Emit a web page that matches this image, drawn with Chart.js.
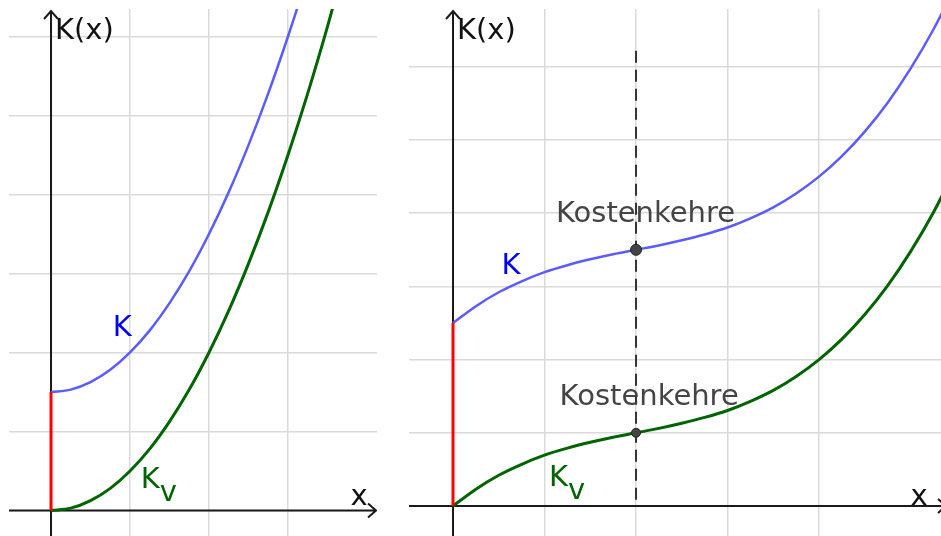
<!DOCTYPE html>
<html>
<head>
<meta charset="utf-8">
<title>Kostenkehre</title>
<script src="https://cdn.jsdelivr.net/npm/chart.js@4.4.1/dist/chart.umd.min.js"></script>
<style>
  html, body { margin: 0; padding: 0; background: #fff; }
  body { width: 941px; height: 536px; position: relative; overflow: hidden; }
  .panel { position: absolute; top: 9px; height: 527px; }
  #left-panel { left: 9px; width: 368px; }
  #right-panel { left: 409px; width: 532px; }
</style>
</head>
<body>
<div class="panel" id="left-panel"><canvas id="leftChart"></canvas></div>
<div class="panel" id="right-panel"><canvas id="rightChart"></canvas></div>
<script>
// left graph: costs without a turning point
const leftX  = [0, 0.25, 0.5, 0.75, 1, 1.25, 1.5, 1.75, 2, 2.25, 2.5, 2.75, 3, 3.25, 3.5, 3.75];
const leftKv = [0, 0.03, 0.125, 0.28, 0.5, 0.78, 1.125, 1.53, 2.0, 2.53, 3.125, 3.78, 4.5, 5.28, 6.125, 7.03];
const leftK  = [1.5, 1.53, 1.625, 1.78, 2.0, 2.28, 2.625, 3.03, 3.5, 4.03, 4.625, 5.28, 6.0, 6.78, 7.625, 8.53];
const leftFixed = 1.5;

// right graph: S-shaped costs with Kostenkehre at x = 2
const rightX  = [0, 0.25, 0.5, 0.75, 1, 1.25, 1.5, 1.75, 2, 2.25, 2.5, 2.75, 3, 3.25, 3.5, 3.75, 4, 4.25, 4.5, 4.75, 5, 5.25, 5.5];
const rightKv = [0, 0.23, 0.42, 0.57, 0.695, 0.79, 0.87, 0.94, 1.0, 1.06, 1.13, 1.21, 1.305, 1.43, 1.58, 1.77, 2.0, 2.28, 2.615, 3.01, 3.475, 4.01, 4.625];
const rightK  = [2.5, 2.73, 2.92, 3.07, 3.195, 3.29, 3.37, 3.44, 3.5, 3.56, 3.63, 3.71, 3.805, 3.93, 4.08, 4.27, 4.5, 4.78, 5.115, 5.51, 5.975, 6.51, 7.125];
const rightFixed = 2.5;
const turnX = 2;
const turnLineTop = 6.22;

const FONT = '29px "DejaVu Sans"';
const BLUE = '#5b5bff';
const GREEN = '#006400';

function toPoints(xs, ys) {
    return xs.map((x, i) => ({ x: x, y: ys[i] }));
}

function integerTicks(scale) {
    scale.ticks = scale.ticks.filter(t => Math.abs(t.value - Math.round(t.value)) < 1e-6);
}

function gridScale(min, max) {
    return {
        type: 'linear',
        min: min,
        max: max,
        afterBuildTicks: integerTicks,
        afterFit: s => { if (s.isHorizontal()) s.height = 0; else s.width = 0; },
        ticks: { display: false, stepSize: 1 },
        grid: { color: '#dadada', lineWidth: 1.5, drawTicks: false },
        border: { display: false }
    };
}

// axes with arrows and the text labels
const decorPlugin = {
    id: 'decor',
    beforeDatasetsDraw(chart, args, opts) {
        const { ctx, chartArea, scales: { x, y } } = chart;
        const x0 = x.getPixelForValue(0);
        const y0 = y.getPixelForValue(0);
        const top = chartArea.top + 2;
        const tip = chartArea.right + opts.arrowOverhang;
        ctx.save();
        ctx.strokeStyle = '#1a1a1a';
        ctx.lineWidth = 2;
        ctx.beginPath();
        ctx.moveTo(x0, chartArea.bottom);
        ctx.lineTo(x0, top);
        ctx.moveTo(chartArea.left, y0);
        ctx.lineTo(tip, y0);
        ctx.moveTo(x0 - 7, top + 8);
        ctx.lineTo(x0, top);
        ctx.lineTo(x0 + 7, top + 8);
        ctx.moveTo(tip - 8, y0 - 7);
        ctx.lineTo(tip, y0);
        ctx.lineTo(tip - 8, y0 + 7);
        ctx.stroke();
        ctx.restore();
    },
    afterDatasetsDraw(chart, args, opts) {
        const { ctx, chartArea, scales: { x, y } } = chart;
        ctx.save();
        ctx.font = FONT;
        ctx.textBaseline = 'alphabetic';
        ctx.textAlign = 'left';
        ctx.fillStyle = '#111';
        ctx.fillText('K(x)', x.getPixelForValue(0) + 4, chartArea.top + 30);
        opts.labels.forEach(l => {
            const px = x.getPixelForValue(l.x);
            const py = y.getPixelForValue(l.y);
            ctx.fillStyle = l.color;
            ctx.fillText(l.text, px, py);
            if (l.sub) {
                ctx.fillText(l.sub, px + ctx.measureText(l.text).width, py + 13);
            }
        });
        ctx.restore();
    }
};

function baseOptions(xMin, xMax, yMin, yMax, overhang, labels) {
    return {
        responsive: true,
        maintainAspectRatio: false,
        animation: false,
        layout: { padding: 0, autoPadding: false },
        elements: { point: { radius: 0 } },
        scales: {
            x: gridScale(xMin, xMax),
            y: gridScale(yMin, yMax)
        },
        plugins: {
            legend: { display: false },
            tooltip: { enabled: false },
            decor: { arrowOverhang: overhang, labels: labels }
        }
    };
}

function curve(data, color, width) {
    return {
        data: data,
        borderColor: color,
        borderWidth: width,
        cubicInterpolationMode: 'monotone',
        pointRadius: 0,
        fill: false
    };
}

function fixedLine(value) {
    return {
        data: [{ x: 0, y: 0 }, { x: 0, y: value }],
        borderColor: '#ff0000',
        borderWidth: 3,
        pointRadius: 0
    };
}

new Chart(document.getElementById('leftChart'), {
    type: 'line',
    data: {
        datasets: [
            fixedLine(leftFixed),
            curve(toPoints(leftX, leftK), BLUE, 2.5),
            curve(toPoints(leftX, leftKv), GREEN, 3)
        ]
    },
    options: baseOptions(-0.532, 4.127, -0.323, 6.348, -1, [
        { text: 'K', x: 0.78, y: 2.21, color: '#0000ff' },
        { text: 'K', sub: 'v', x: 1.135, y: 0.289, color: GREEN },
        { text: 'x', x: 3.79, y: 0.07, color: '#111' }
    ]),
    plugins: [decorPlugin]
});

const turn = rightX.indexOf(turnX);

new Chart(document.getElementById('rightChart'), {
    type: 'line',
    data: {
        datasets: [
            {
                data: [{ x: turnX, y: rightK[turn] }],
                showLine: false,
                pointRadius: 5.5,
                pointBackgroundColor: '#444',
                pointBorderColor: '#222',
                pointBorderWidth: 1
            },
            {
                data: [{ x: turnX, y: rightKv[turn] }],
                showLine: false,
                pointRadius: 4.5,
                pointBackgroundColor: '#444',
                pointBorderColor: '#222',
                pointBorderWidth: 1
            },
            fixedLine(rightFixed),
            curve(toPoints(rightX, rightK), BLUE, 2.5),
            curve(toPoints(rightX, rightKv), GREEN, 3),
            {
                data: [{ x: turnX, y: turnLineTop }, { x: turnX, y: 0 }],
                borderColor: '#333',
                borderWidth: 2,
                borderDash: [12, 7],
                pointRadius: 0
            }
        ]
    },
    options: baseOptions(-0.481, 5.333, -0.41, 6.79, 5, [
        { text: 'K', x: 0.53, y: 3.17, color: '#0000ff' },
        { text: 'K', sub: 'v', x: 1.05, y: 0.27, color: GREEN },
        { text: 'Kostenkehre', x: 1.125, y: 3.88, color: '#444' },
        { text: 'Kostenkehre', x: 1.165, y: 1.38, color: '#444' },
        { text: 'x', x: 5.0, y: 0.014, color: '#111' }
    ]),
    plugins: [decorPlugin]
});
</script>
</body>
</html>
